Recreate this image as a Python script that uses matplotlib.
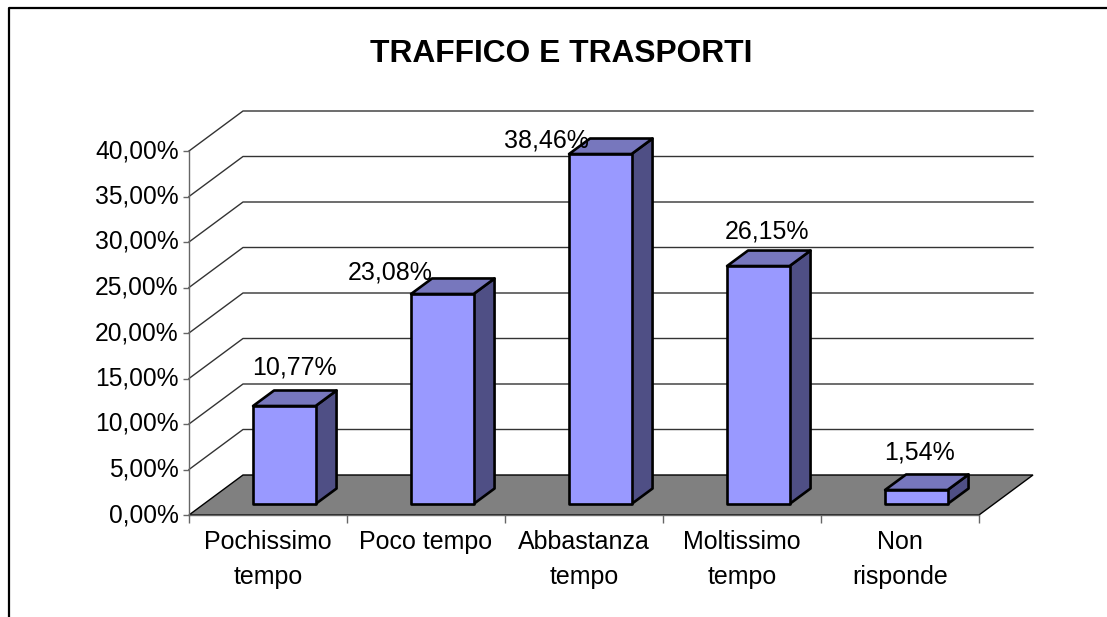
import numpy as np
import matplotlib
matplotlib.use("Agg")
import matplotlib.pyplot as plt
from matplotlib.lines import Line2D
from matplotlib.patches import Polygon

categories = ["Pochissimo\ntempo", "Poco tempo", "Abbastanza\ntempo", "Moltissimo\ntempo", "Non\nrisponde"]
values = [10.77, 23.08, 38.46, 26.15, 1.54]
value_labels = ["10,77%", "23,08%", "38,46%", "26,15%", "1,54%"]
y_ticks = [0, 5, 10, 15, 20, 25, 30, 35, 40]
y_tick_labels = ["0,00%", "5,00%", "10,00%", "15,00%", "20,00%", "25,00%", "30,00%", "35,00%", "40,00%"]
title = "TRAFFICO E TRASPORTI"

W, H = 1107, 617
plt.rcParams["font.family"] = ["Liberation Sans", "DejaVu Sans"]

fig = plt.figure(figsize=(W/100, H/100), dpi=100)
ax = fig.add_axes([189/W, (H-515)/H, 790/W, 364/H])
ax.set_xlim(0, len(categories))
ax.set_ylim(0, 40)

# one pixel in data units
px = len(categories)/790
py = 40/364
wall_dx, wall_dy = 54*px, 40*py
bar_dx, bar_dy = 16.3*px, 11*py
depth_dx, depth_dy = 21*px, 15.5*py
bar_w = 62.5*px
n = len(categories)

# floor and back wall lines
ax.add_patch(Polygon([(0, 0), (n, 0), (n+wall_dx, wall_dy), (wall_dx, wall_dy)], fc="#808080", ec="black", lw=1, clip_on=False, zorder=1))
for t in y_ticks[1:]:
    ax.plot([0, wall_dx, n+wall_dx], [t, t+wall_dy, t+wall_dy], color="#333333", lw=1, clip_on=False, zorder=1)

for i, v in enumerate(values):
    x0 = i+0.5+bar_dx-bar_w/2
    x1 = x0+bar_w
    y0 = bar_dy
    y1 = v+bar_dy
    ax.add_patch(Polygon([(x1, y0), (x1+depth_dx, y0+depth_dy), (x1+depth_dx, y1+depth_dy), (x1, y1)], fc="#4F4F85", ec="black", lw=1.9, joinstyle="round", clip_on=False, zorder=3))
    ax.add_patch(Polygon([(x0, y1), (x1, y1), (x1+depth_dx, y1+depth_dy), (x0+depth_dx, y1+depth_dy)], fc="#7777BD", ec="black", lw=1.9, joinstyle="round", clip_on=False, zorder=3))
    ax.add_patch(Polygon([(x0, y0), (x1, y0), (x1, y1), (x0, y1)], fc="#9999FF", ec="black", lw=1.9, joinstyle="round", clip_on=False, zorder=3))

# labels were dragged by hand in the original, so offsets differ per bar
label_off = [(10, 38), (-52, 21), (-54, 14), (9, 35), (3, 37)]
for i, v in enumerate(values):
    xc = i+0.5+bar_dx
    ax.annotate(value_labels[i], xy=(xc, v+bar_dy), xytext=label_off[i], textcoords="offset pixels",
                ha="center", va="center", fontsize=18, color="black", annotation_clip=False, zorder=5)

for s in ["top", "right"]:
    ax.spines[s].set_visible(False)
for s in ["left", "bottom"]:
    ax.spines[s].set_color("#666666")
    ax.spines[s].set_linewidth(1)
    ax.spines[s].set_zorder(2)
ax.patch.set_visible(False)

ax.set_yticks(y_ticks)
ax.set_yticklabels(y_tick_labels, fontsize=17.7, va="center")
ax.tick_params(axis="y", length=4, width=1, color="#666666", pad=3.5)
ax.set_xticks(np.arange(n)+0.5)
ax.set_xticklabels(categories, fontsize=18, linespacing=1.55)
ax.set_xticks(np.arange(n+1), minor=True)
ax.tick_params(axis="x", which="major", length=0, pad=11)
ax.tick_params(axis="x", which="minor", length=6, width=1, color="#666666")

fig.text(561.5/W, 1-54/H, title, ha="center", va="center", fontsize=22.9, fontweight="bold")

# chart frame, cut off at the right and bottom of the image
fig.add_artist(Line2D([8.5/W, 8.5/W, 1], [0, 1-7.5/H, 1-7.5/H], color="black", lw=1.6))

fig.savefig("out.png", dpi=100)
